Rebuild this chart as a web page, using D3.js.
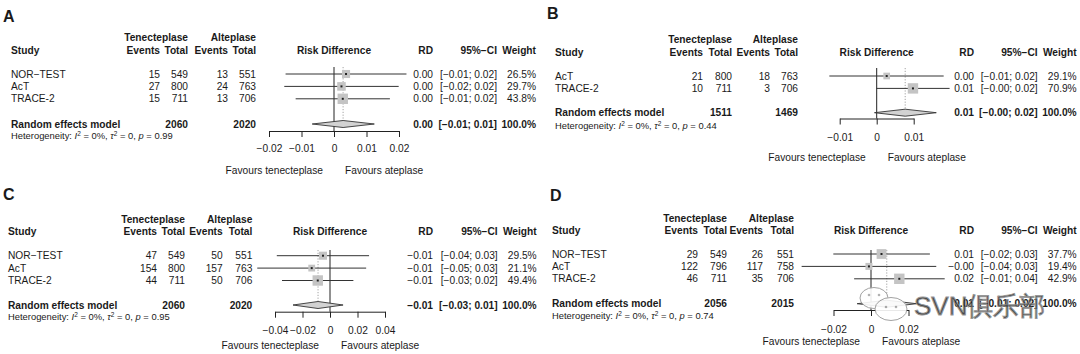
<!DOCTYPE html>
<html><head><meta charset="utf-8">
<script src="https://cdn.jsdelivr.net/npm/d3@7"></script>
<style>
body{margin:0;background:#fff}
svg{display:block}
text{font-family:"Liberation Sans",Arial,sans-serif;fill:#1a1a1a}
</style>
</head><body>
<svg id="chart" width="1080" height="354"></svg>
<script>
// ---------------- DATA ----------------
// Panel A
const studiesA = ["NOR\u2212TEST", "AcT", "TRACE-2"];
const tnkEventsA = [15, 27, 15];
const tnkTotalA = [549, 800, 711];
const altEventsA = [13, 24, 13];
const altTotalA = [551, 763, 706];
const rdA = [0.0037, 0.0023, 0.0027];
const lowerA = [-0.0149, -0.0153, -0.0118];
const upperA = [0.0223, 0.0199, 0.0172];
const weightA = [26.5, 29.7, 43.8];
const pooledA = [0.0028, -0.0067, 0.0124];
const totalsA = [2060, 2020];
const hetPA = "0.99";
const ticksA = [-0.02, -0.01, 0, 0.01, 0.02];

// Panel B
const studiesB = ["AcT", "TRACE-2"];
const tnkEventsB = [21, 10];
const tnkTotalB = [800, 711];
const altEventsB = [18, 3];
const altTotalB = [763, 706];
const rdB = [0.0027, 0.0098];
const lowerB = [-0.0128, -0.0001];
const upperB = [0.0181, 0.0197];
const weightB = [29.1, 70.9];
const pooledB = [0.0077, -0.0006, 0.0161];
const totalsB = [1511, 1469];
const hetPB = "0.44";
const ticksB = [-0.01, 0, 0.01];

// Panel C
const studiesC = ["NOR\u2212TEST", "AcT", "TRACE-2"];
const tnkEventsC = [47, 154, 44];
const tnkTotalC = [549, 800, 711];
const altEventsC = [50, 157, 50];
const altTotalC = [551, 763, 706];
const rdC = [-0.0051, -0.0133, -0.0089];
const lowerC = [-0.0387, -0.0529, -0.0349];
const upperC = [0.0284, 0.0263, 0.0170];
const weightC = [29.5, 21.1, 49.4];
const pooledC = [-0.0087, -0.0269, 0.0095];
const totalsC = [2060, 2020];
const hetPC = "0.95";
const ticksC = [-0.04, -0.02, 0, 0.02, 0.04];

// Panel D
const studiesD = ["NOR\u2212TEST", "AcT", "TRACE-2"];
const tnkEventsD = [29, 122, 46];
const tnkTotalD = [549, 796, 711];
const altEventsD = [26, 117, 35];
const altTotalD = [551, 758, 706];
const rdD = [0.0056, -0.0011, 0.0151];
const lowerD = [-0.0201, -0.0370, -0.0090];
const upperD = [0.0314, 0.0348, 0.0393];
const weightD = [37.7, 19.4, 42.9];
const pooledD = [0.0084, -0.0074, 0.0242];
const totalsD = [2056, 2015];
const hetPD = "0.74";
const ticksD = [-0.02, 0, 0.02];

const panelLetters = ["A", "B", "C", "D"];

// ---------------- LAYOUT ----------------
const layouts = [
  {letterX:3, letterY:16, studyX:11, cols:[160,188,228,256], zero:334, ppu:3250, rdX:433, ciX:497, wX:536,
   yH1:37, yH2:50, yRow0:74, yPooled:124, yHet:136, yAxis:131, yTick:148, yFav:170, yTop:67},
  {letterX:547, letterY:13.3, studyX:555, cols:[703,732,770,798], zero:876.7, ppu:3700, rdX:974, ciX:1037.7, wX:1076.7,
   yH1:39, yH2:52, yRow0:76, yPooled:112.7, yHet:126, yAxis:118.5, yTick:137, yFav:157, yTop:68},
  {letterX:3, letterY:194, studyX:8, cols:[157,185,222.7,252.3], zero:330, ppu:1375, rdX:433, ciX:497.7, wX:536.7,
   yH1:219, yH2:231, yRow0:255.7, yPooled:305, yHet:317, yAxis:311.7, yTick:330, yFav:345.7, yTop:250},
  {letterX:550, letterY:195, studyX:552, cols:[698,727,763,794], zero:871, ppu:1875, rdX:974, ciX:1037.7, wX:1076.7,
   yH1:218, yH2:230, yRow0:254, yPooled:303.7, yHet:315.7, yAxis:310, yTick:329, yFav:341.7, yTop:250}
];

const panelData = [
  {studies:studiesA, e1:tnkEventsA, n1:tnkTotalA, e2:altEventsA, n2:altTotalA, rd:rdA, lo:lowerA, hi:upperA, w:weightA, pooled:pooledA, totals:totalsA, p:hetPA, ticks:ticksA},
  {studies:studiesB, e1:tnkEventsB, n1:tnkTotalB, e2:altEventsB, n2:altTotalB, rd:rdB, lo:lowerB, hi:upperB, w:weightB, pooled:pooledB, totals:totalsB, p:hetPB, ticks:ticksB},
  {studies:studiesC, e1:tnkEventsC, n1:tnkTotalC, e2:altEventsC, n2:altTotalC, rd:rdC, lo:lowerC, hi:upperC, w:weightC, pooled:pooledC, totals:totalsC, p:hetPC, ticks:ticksC},
  {studies:studiesD, e1:tnkEventsD, n1:tnkTotalD, e2:altEventsD, n2:altTotalD, rd:rdD, lo:lowerD, hi:upperD, w:weightD, pooled:pooledD, totals:totalsD, p:hetPD, ticks:ticksD}
];

const FS = 10.2, BASE = 3.6, ROW = 12.4;
const fmt2 = v => (v < 0 ? "\u2212" : "") + Math.abs(v).toFixed(2);
const fmtTick = v => v === 0 ? "0" : (v < 0 ? "\u2212" : "") + String(Math.abs(v));
const ci = (l, h) => "[" + fmt2(l) + "; " + fmt2(h) + "]";

const svg = d3.select("#chart");

function txt(g, x, y, s, anchor, bold, size) {
  return g.append("text").attr("x", x).attr("y", y + BASE)
    .attr("text-anchor", anchor || "start")
    .attr("font-size", size || FS)
    .attr("font-weight", bold ? "bold" : "normal")
    .text(s);
}

panelData.forEach((d, k) => {
  const L = layouts[k];
  const g = svg.append("g");
  const t0 = d.ticks[0], t1 = d.ticks[d.ticks.length - 1];
  const x = d3.scaleLinear().domain([t0, t1]).range([L.zero + t0 * L.ppu, L.zero + t1 * L.ppu]);

  // panel letter
  g.append("text").attr("x", L.letterX).attr("y", L.letterY + 5.8)
    .attr("font-size", 16).attr("font-weight", "bold").text(panelLetters[k]);

  // headers
  txt(g, L.cols[1], L.yH1, "Tenecteplase", "end", true);
  txt(g, L.cols[3], L.yH1, "Alteplase", "end", true);
  txt(g, L.studyX, L.yH2, "Study", "start", true);
  txt(g, L.cols[0], L.yH2, "Events", "end", true);
  txt(g, L.cols[1], L.yH2, "Total", "end", true);
  txt(g, L.cols[2], L.yH2, "Events", "end", true);
  txt(g, L.cols[3], L.yH2, "Total", "end", true);
  txt(g, L.zero, L.yH2, "Risk Difference", "middle", true);
  txt(g, L.rdX, L.yH2, "RD", "end", true);
  txt(g, L.ciX, L.yH2, "95%\u2212CI", "end", true);
  txt(g, L.wX, L.yH2, "Weight", "end", true);

  const rowY = i => L.yRow0 + i * ROW;

  // plot: reference lines
  g.append("line").attr("x1", x(0)).attr("x2", x(0)).attr("y1", L.yTop).attr("y2", L.yAxis)
    .attr("stroke", "#222").attr("stroke-width", 1);
  g.append("line").attr("x1", x(d.pooled[0])).attr("x2", x(d.pooled[0]))
    .attr("y1", L.yTop).attr("y2", L.yPooled - 3.5)
    .attr("stroke", "#999").attr("stroke-width", 0.9).attr("stroke-dasharray", "1.2,1.6");

  const wmax = d3.max(d.w);
  const side = w => 10.4 * Math.sqrt(w / wmax);

  d.studies.forEach((s, i) => {
    const y = rowY(i);
    txt(g, L.studyX, y, s, "start");
    txt(g, L.cols[0], y, d.e1[i], "end");
    txt(g, L.cols[1], y, d.n1[i], "end");
    txt(g, L.cols[2], y, d.e2[i], "end");
    txt(g, L.cols[3], y, d.n2[i], "end");
    txt(g, L.rdX, y, fmt2(d.rd[i]), "end");
    txt(g, L.ciX, y, ci(d.lo[i], d.hi[i]), "end");
    txt(g, L.wX, y, d.w[i].toFixed(1) + "%", "end");

    g.append("line").attr("x1", x(d.lo[i])).attr("x2", x(d.hi[i])).attr("y1", y).attr("y2", y)
      .attr("stroke", "#333").attr("stroke-width", 1);
    const sz = side(d.w[i]);
    g.append("rect").attr("x", x(d.rd[i]) - sz / 2).attr("y", y - sz / 2)
      .attr("width", sz).attr("height", sz).attr("fill", "#c4c4c4");
    g.append("rect").attr("x", x(d.rd[i]) - 1).attr("y", y - 1)
      .attr("width", 2).attr("height", 2).attr("fill", "#222");
  });

  // pooled row
  txt(g, L.studyX, L.yPooled, "Random effects model", "start", true);
  txt(g, L.cols[1], L.yPooled, d.totals[0], "end", true);
  txt(g, L.cols[3], L.yPooled, d.totals[1], "end", true);
  txt(g, L.rdX, L.yPooled, fmt2(d.pooled[0]), "end", true);
  txt(g, L.ciX, L.yPooled, ci(d.pooled[1], d.pooled[2]), "end", true);
  txt(g, L.wX, L.yPooled, "100.0%", "end", true);

  const dy = L.yPooled;
  g.append("path")
    .attr("d", `M${x(d.pooled[1])},${dy} L${x(d.pooled[0])},${dy - 3.5} L${x(d.pooled[2])},${dy} L${x(d.pooled[0])},${dy + 3.5} Z`)
    .attr("fill", "#d2d2d2").attr("stroke", "#333").attr("stroke-width", 0.9);

  // heterogeneity
  const het = g.append("text").attr("x", L.studyX).attr("y", L.yHet + 3.3).attr("font-size", 9.4);
  het.append("tspan").text("Heterogeneity: ");
  het.append("tspan").attr("font-style", "italic").text("I");
  het.append("tspan").attr("font-size", 6.5).attr("dy", -3.5).text("2");
  het.append("tspan").attr("dy", 3.5).text(" = 0%, ");
  het.append("tspan").attr("font-style", "italic").text("\u03C4");
  het.append("tspan").attr("font-size", 6.5).attr("dy", -3.5).text("2");
  het.append("tspan").attr("dy", 3.5).text(" = 0, ");
  het.append("tspan").attr("font-style", "italic").text("p");
  het.append("tspan").text(" = " + d.p);

  // axis
  const pad = (L.yTick - L.yAxis) - 9.6;
  const ax = g.append("g").attr("transform", `translate(0,${L.yAxis})`)
    .call(d3.axisBottom(x).tickValues(d.ticks).tickSize(6).tickSizeOuter(0).tickPadding(pad).tickFormat(fmtTick));
  ax.select(".domain").attr("stroke", "#222");
  ax.selectAll(".tick line").attr("stroke", "#222");
  ax.selectAll(".tick text").attr("font-size", FS).attr("fill", "#1a1a1a")
    .attr("font-family", "\"Liberation Sans\",Arial,sans-serif");

  // favours labels
  txt(g, x(0) - 11, L.yFav, "Favours tenecteplase", "end");
  txt(g, x(0) + 11, L.yFav, "Favours ateplase", "start");
});

// watermark over panel D (present in the reference image)
const wm = svg.append("g").attr("opacity", 0.9);
wm.append("ellipse").attr("cx", 874).attr("cy", 298).attr("rx", 14).attr("ry", 10.5)
  .attr("fill", "#fff").attr("stroke", "#999").attr("stroke-width", 1);
wm.append("ellipse").attr("cx", 891).attr("cy", 309).attr("rx", 16).attr("ry", 11.5)
  .attr("fill", "#fff").attr("stroke", "#999").attr("stroke-width", 1);
[[869,295],[879,295],[886,307],[896,307]].forEach(p =>
  wm.append("circle").attr("cx", p[0]).attr("cy", p[1]).attr("r", 1.3).attr("fill", "#aaa"));
wm.append("text").attr("x", 914).attr("y", 315)
  .attr("font-family", "\"Noto Sans CJK SC\",\"Noto Sans\",sans-serif")
  .attr("font-size", 26).attr("font-weight", 300)
  .attr("fill", "#fff").attr("fill-opacity", 0.88)
  .attr("stroke", "#8c8c8c").attr("stroke-width", 0.9)
  .text("SVN俱乐部");
</script>
</body></html>
